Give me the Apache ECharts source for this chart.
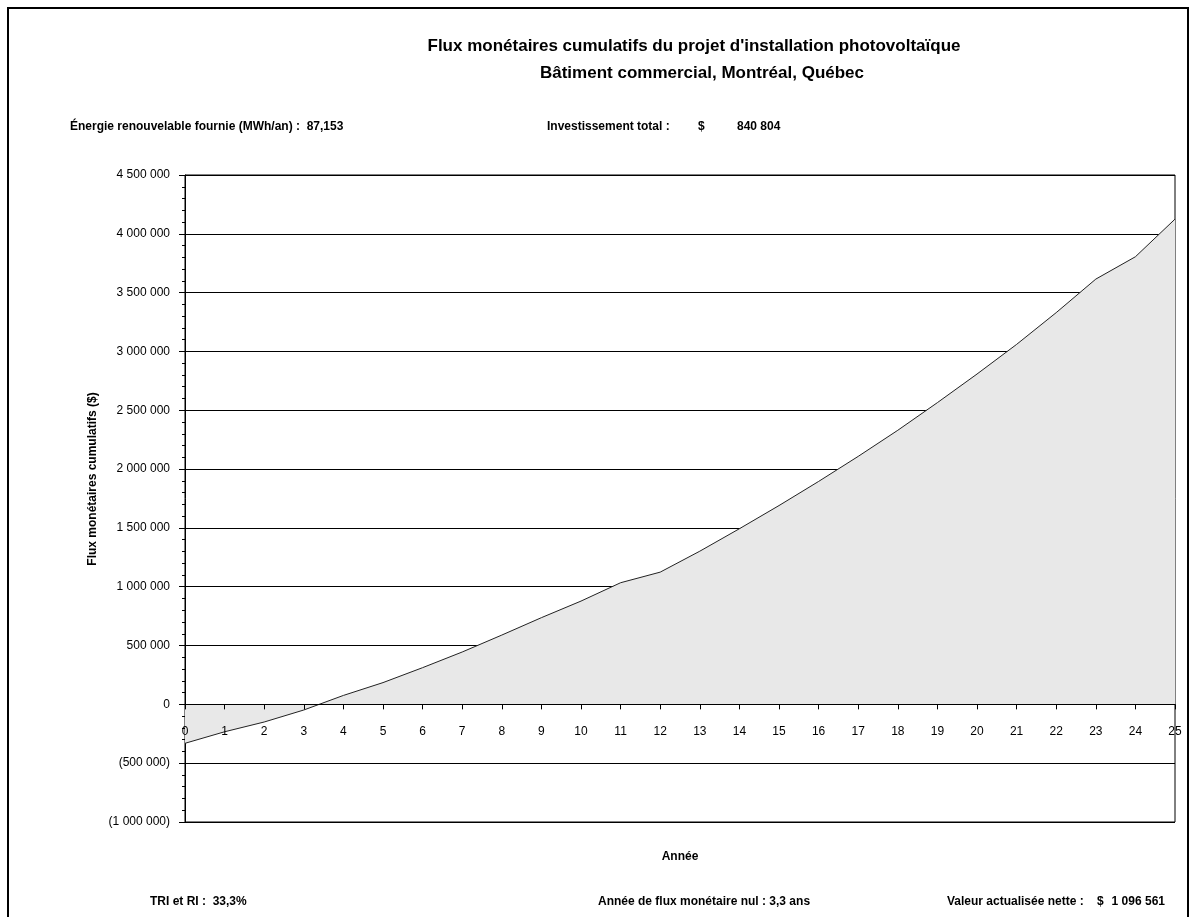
<!DOCTYPE html>
<html>
<head>
<meta charset="utf-8">
<script src="https://cdn.jsdelivr.net/npm/echarts@6/dist/echarts.min.js"></script>
<style>
html,body{margin:0;padding:0;background:#fff;}
#chart{width:1196px;height:917px;}
</style>
</head>
<body>
<div id="chart"></div>
<script>
const years = [0,1,2,3,4,5,6,7,8,9,10,11,12,13,14,15,16,17,18,19,20,21,22,23,24,25];
const cumulativeFlows = [-331000,-233000,-150000,-48000,76000,185000,312000,445000,589000,737000,878000,1034000,1124000,1302000,1493000,1690000,1895000,2108000,2330000,2565000,2808000,3060000,3330000,3615000,3805000,4125000];
const titleLines = ["Flux monétaires cumulatifs du projet d'installation photovoltaïque", "Bâtiment commercial, Montréal, Québec"];
const yAxisName = "Flux monétaires cumulatifs ($)";
const xAxisName = "Année";
const infoEnergy = "Énergie renouvelable fournie (MWh/an) :  87,153";
const infoInvestLabel = "Investissement total :";
const infoInvestValue = "840 804";
const infoTRI = "TRI et RI :  33,3%";
const infoPayback = "Année de flux monétaire nul : 3,3 ans";
const infoNPVLabel = "Valeur actualisée nette :";
const infoNPVValue = "1 096 561";

function fmt(v){
  const s = Math.abs(v).toString().replace(/\B(?=(\d{3})+(?!\d))/g, ' ');
  return v < 0 ? '(' + s + ')' : s;
}

const chart = echarts.init(document.getElementById('chart'));
const FONT = 'Liberation Sans, Arial, sans-serif';
const bold = {fontFamily:FONT, fontWeight:'bold', fontSize:12, fill:'#000'};
function txt(t, x, y, align, extra){
  return {type:'text', x:x, y:y, style:Object.assign({text:t, textAlign:align||'left', textVerticalAlign:'middle'}, bold, extra||{})};
}
chart.setOption({
  animation:false,
  backgroundColor:'#fff',
  grid:{left:185, top:175, width:990, height:647, show:true, borderColor:'#000', borderWidth:1},
  xAxis:{
    type:'value', min:0, max:25, interval:1, z:5,
    axisLine:{show:true, onZero:true, lineStyle:{color:'#000', width:1}},
    axisTick:{show:true, inside:false, length:5, lineStyle:{color:'#000'}},
    axisLabel:{margin:-96, color:'#000', fontSize:12, fontFamily:FONT, showMinLabel:true, showMaxLabel:true},
    splitLine:{show:false}
  },
  yAxis:{
    type:'value', min:-1000000, max:4500000, interval:500000,
    axisLine:{show:true, lineStyle:{color:'#000', width:1}},
    axisTick:{show:true, length:6, lineStyle:{color:'#000'}},
    minorTick:{show:true, splitNumber:5, length:3, lineStyle:{color:'#000'}},
    axisLabel:{margin:15, color:'#000', fontSize:12, fontFamily:FONT, formatter:fmt},
    splitLine:{show:true, lineStyle:{color:'#000', width:1}}
  },
  series:[{
    type:'line',
    data: years.map((y,i)=>[y, cumulativeFlows[i]]),
    symbol:'none',
    lineStyle:{color:'#222', width:1},
    areaStyle:{color:'#e8e8e8', opacity:1}
  }],
  graphic:[
    {type:'rect', shape:{x:8, y:8, width:1180, height:940}, style:{fill:'none', stroke:'#000', lineWidth:2}, silent:true},
    {type:'text', x:694, y:46, style:{text:titleLines[0], textAlign:'center', textVerticalAlign:'middle', fontFamily:FONT, fontWeight:'bold', fontSize:17, fill:'#000'}},
    {type:'text', x:702, y:73, style:{text:titleLines[1], textAlign:'center', textVerticalAlign:'middle', fontFamily:FONT, fontWeight:'bold', fontSize:17, fill:'#000'}},
    txt(infoEnergy, 70, 127),
    txt(infoInvestLabel, 547, 127),
    txt('$', 698, 127),
    txt(infoInvestValue, 737, 127),
    txt(infoTRI, 150, 902),
    txt(infoPayback, 598, 902),
    txt(infoNPVLabel, 947, 902),
    txt('$', 1097, 902),
    txt(infoNPVValue, 1165, 902, 'right'),
    txt(xAxisName, 680, 857, 'center'),
    {type:'text', x:93, y:479, rotation:Math.PI/2, style:Object.assign({text:yAxisName, textAlign:'center', textVerticalAlign:'middle'}, bold)}
  ]
});
</script>
</body>
</html>
